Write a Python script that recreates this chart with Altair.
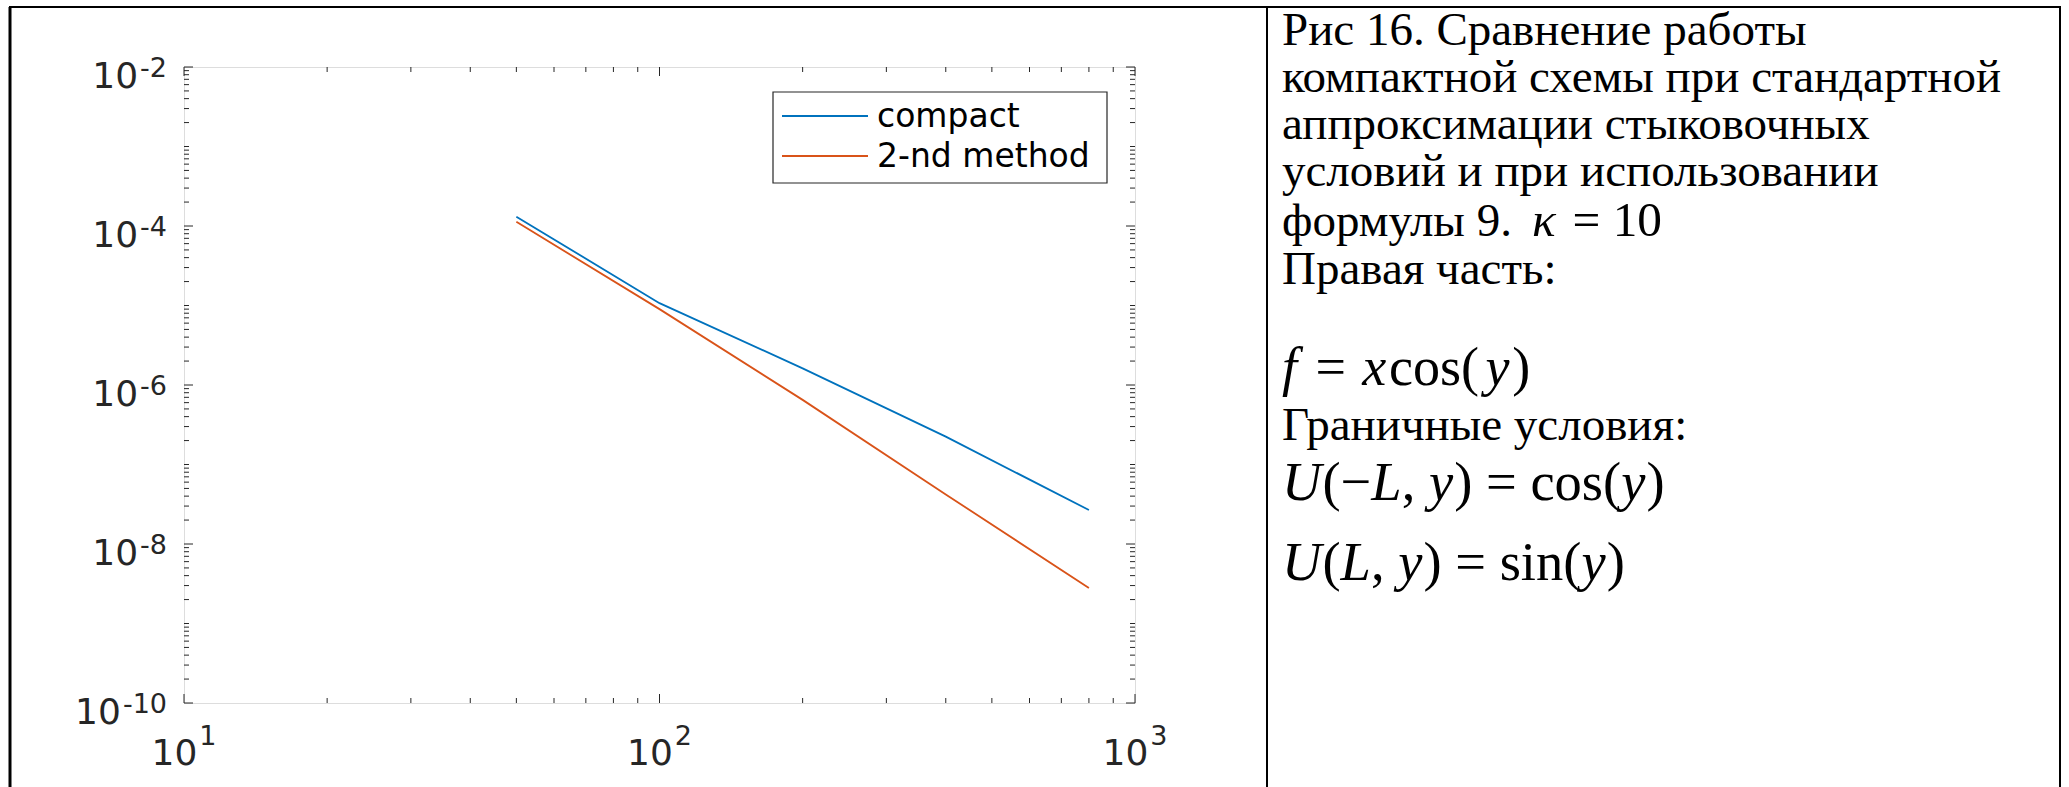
import altair as alt
import pandas as pd

# ---------------- data ----------------
grid_n = [50, 100, 200, 400, 800]
err_compact = [1.31e-4, 1.07e-5, 1.62e-6, 2.24e-7, 2.68e-8]
err_second = [1.13e-4, 9.0e-6, 6.5e-7, 4.2e-8, 2.8e-9]
series_names = ["compact", "2-nd method"]
series_colors = ["#0072BD", "#D95319"]

x_domain = [10, 1000]
y_domain = [1e-10, 1e-2]
x_label_values = [10, 100, 1000]
x_label_exps = ["1", "2", "3"]
y_label_values = [1e-2, 1e-4, 1e-6, 1e-8, 1e-10]
y_label_exps = ["-2", "-4", "-6", "-8", "-10"]
x_decades = [10, 100]
y_decades = [1e-10, 1e-9, 1e-8, 1e-7, 1e-6, 1e-5, 1e-4, 1e-3]
minor_mult = [2, 3, 4, 5, 6, 7, 8, 9]

# caption: (text, style, size factor, gap after in em)
caption_lines = [
    [("Рис 16. Сравнение работы", "normal", 1.0, 0)],
    [("компактной схемы при стандартной", "normal", 1.0, 0)],
    [("аппроксимации стыковочных", "normal", 1.0, 0)],
    [("условий и при использовании", "normal", 1.0, 0)],
    [("формулы 9.", "normal", 1.0, 0.3), ("κ", "italic", 1.05, 0.22), ("= 10", "normal", 1.05, 0)],
    [("Правая часть:", "normal", 1.0, 0)],
    [("f", "italic", 1.15, 0.32), ("=", "normal", 1.15, 0.3), ("x", "italic", 1.15, 0.05),
     ("cos(", "normal", 1.15, 0.12), ("y", "italic", 1.15, 0.05), (")", "normal", 1.15, 0)],
    [("Граничные условия:", "normal", 1.0, 0)],
    [("U", "italic", 1.16, 0.02), ("(−", "normal", 1.16, 0), ("L", "italic", 1.16, 0),
     (", ", "normal", 1.16, 0), ("y", "italic", 1.16, 0.02), (") = cos(", "normal", 1.16, 0),
     ("y", "italic", 1.16, 0.02), (")", "normal", 1.16, 0)],
    [("U", "italic", 1.16, 0.02), ("(", "normal", 1.16, 0), ("L", "italic", 1.16, 0),
     (", ", "normal", 1.16, 0), ("y", "italic", 1.16, 0.02), (") = sin(", "normal", 1.16, 0),
     ("y", "italic", 1.16, 0.02), (")", "normal", 1.16, 0)],
]

# ---------------- layout ----------------
W, H = 951, 636
PAD = {"left": 184, "top": 67, "right": 2069 - 184 - W, "bottom": 787 - 67 - H}
AX = "#262626"
TICK_MAJ, TICK_MIN = 9, 5

xscale = alt.Scale(type="log", domain=x_domain, nice=False)
yscale = alt.Scale(type="log", domain=y_domain, nice=False)

one = alt.Data(values=[{"a": 1}])

rows = []
for name, vals in zip(series_names, [err_compact, err_second]):
    for n, e in zip(grid_n, vals):
        rows.append({"N": n, "err": e, "method": name})
df = pd.DataFrame(rows)

layers = []

# data lines
layers.append(
    alt.Chart(df).mark_line(strokeWidth=1.8).encode(
        x=alt.X("N:Q", scale=xscale, axis=None),
        y=alt.Y("err:Q", scale=yscale, axis=None),
        color=alt.Color("method:N", scale=alt.Scale(domain=series_names, range=series_colors), legend=None),
    )
)

# inward ticks on all four sides
y_minor = pd.DataFrame({"v": [m * d for d in y_decades for m in minor_mult]
                        + [d for d in y_decades if d not in y_label_values]})
y_major = pd.DataFrame({"v": y_label_values})
x_minor = pd.DataFrame({"v": [m * d for d in x_decades for m in minor_mult]})
x_major = pd.DataFrame({"v": x_label_values})

for data, L in [(y_minor, TICK_MIN), (y_major, TICK_MAJ)]:
    yenc = alt.Y("v:Q", scale=yscale, axis=None)
    layers.append(alt.Chart(data).mark_rule(color=AX, strokeWidth=1).encode(
        y=yenc, x=alt.value(0), x2=alt.value(L)))
    layers.append(alt.Chart(data).mark_rule(color=AX, strokeWidth=1).encode(
        y=yenc, x=alt.value(W - L), x2=alt.value(W)))
for data, L in [(x_minor, TICK_MIN), (x_major, TICK_MAJ)]:
    xenc = alt.X("v:Q", scale=xscale, axis=None)
    layers.append(alt.Chart(data).mark_rule(color=AX, strokeWidth=1).encode(
        x=xenc, y=alt.value(H - L), y2=alt.value(H)))
    layers.append(alt.Chart(data).mark_rule(color=AX, strokeWidth=1).encode(
        x=xenc, y=alt.value(0), y2=alt.value(L)))

# tick labels: "10" + superscript exponent
BASE_FS, EXP_FS = 36, 27
DJ = {"-": 0.361}
def dj_width(s, fs):
    return sum(DJ.get(c, 0.636) for c in s) * fs

xl = pd.DataFrame({"v": x_label_values, "e": x_label_exps})
wb = dj_width("10", BASE_FS)
we = dj_width("1", EXP_FS)
tot = wb + we + 2
layers.append(alt.Chart(xl).mark_text(align="right", baseline="alphabetic", font="DejaVu Sans",
                                      fontSize=BASE_FS, color=AX, dx=-tot / 2 + wb).encode(
    x=alt.X("v:Q", scale=xscale, axis=None), y=alt.value(H + 62), text=alt.value("10")))
layers.append(alt.Chart(xl).mark_text(align="left", baseline="alphabetic", font="DejaVu Sans",
                                      fontSize=EXP_FS, color=AX, dx=-tot / 2 + wb + 2).encode(
    x=alt.X("v:Q", scale=xscale, axis=None), y=alt.value(H + 42), text="e:N"))

Y_RIGHT = -17
for v, e in zip(y_label_values, y_label_exps):
    d = alt.Data(values=[{"v": v, "e": e}])
    yenc = alt.Y("v:Q", scale=yscale, axis=None)
    layers.append(alt.Chart(d).mark_text(align="right", baseline="alphabetic", font="DejaVu Sans",
                                         fontSize=EXP_FS, color=AX, dy=10).encode(
        y=yenc, x=alt.value(Y_RIGHT), text="e:N"))
    layers.append(alt.Chart(d).mark_text(align="right", baseline="alphabetic", font="DejaVu Sans",
                                         fontSize=BASE_FS, color=AX, dy=21).encode(
        y=yenc, x=alt.value(Y_RIGHT - dj_width(e, EXP_FS) - 2), text=alt.value("10")))

# legend box
LB = dict(x0=589, x1=923, y0=25, y1=116)
layers.append(alt.Chart(one).mark_rect(fill="white", stroke=AX, strokeWidth=1.2).encode(
    x=alt.value(LB["x0"]), x2=alt.value(LB["x1"]), y=alt.value(LB["y0"]), y2=alt.value(LB["y1"])))
for i, (name, col) in enumerate(zip(series_names, series_colors)):
    yy = 49 + 40 * i
    layers.append(alt.Chart(one).mark_rule(color=col, strokeWidth=2).encode(
        x=alt.value(598), x2=alt.value(684), y=alt.value(yy)))
    layers.append(alt.Chart(one).mark_text(align="left", baseline="middle", font="DejaVu Sans",
                                           fontSize=33, color="black", text=name).encode(
        x=alt.value(693), y=alt.value(yy + 1)))

# table borders
BL, BT, BD, BR, BB = 10 - 184, 7 - 67, 1267 - 184, 2060 - 184, 787 - 67
layers.append(alt.Chart(one).mark_rule(color="black", strokeWidth=3).encode(
    x=alt.value(BL), y=alt.value(BT), y2=alt.value(BB)))
layers.append(alt.Chart(one).mark_rule(color="black", strokeWidth=2).encode(
    x=alt.value(BL - 1), x2=alt.value(BR + 1), y=alt.value(BT)))
layers.append(alt.Chart(one).mark_rule(color="black", strokeWidth=2).encode(
    x=alt.value(BD), y=alt.value(BT), y2=alt.value(BB)))
layers.append(alt.Chart(one).mark_rule(color="black", strokeWidth=2).encode(
    x=alt.value(BR), y=alt.value(BT), y2=alt.value(BB)))

# caption text
S = 47
TX0 = 1282 - 184
baselines = [45, 92, 139, 186, 236, 284, 385, 440, 500, 580]
TR = {" ": .25, "(": .333, ")": .333, ",": .25, "=": .564, "−": .564, ".": .25, ":": .278,
      "c": .444, "o": .5, "s": .389, "i": .278, "n": .5,
      "ф": .652, "о": .5, "р": .5, "м": .638, "у": .5, "л": .514, "ы": .716}
TI = {"f": .3, "x": .444, "y": .444, "U": .722, "L": .556, "κ": .6, " ": .25}

for segs, bl in zip(caption_lines, baselines):
    xpos = TX0
    for txt, style, sc, gap in segs:
        fs = S * sc
        layers.append(alt.Chart(one).mark_text(align="left", baseline="alphabetic",
                                               font="Liberation Serif", fontSize=fs,
                                               fontStyle=style, color="black", text=txt).encode(
            x=alt.value(xpos), y=alt.value(bl - 67)))
        table = TI if style == "italic" else TR
        xpos += sum(table.get(c, 0.5) for c in txt) * fs + gap * fs

chart = alt.layer(*layers).properties(
    width=W, height=H,
    autosize=alt.AutoSizeParams(type="none"),
    padding=PAD,
).configure_view(stroke=AX, strokeWidth=1.6).configure(background="white")

chart.save("out.html", embed_options={"renderer": "svg", "actions": False})
